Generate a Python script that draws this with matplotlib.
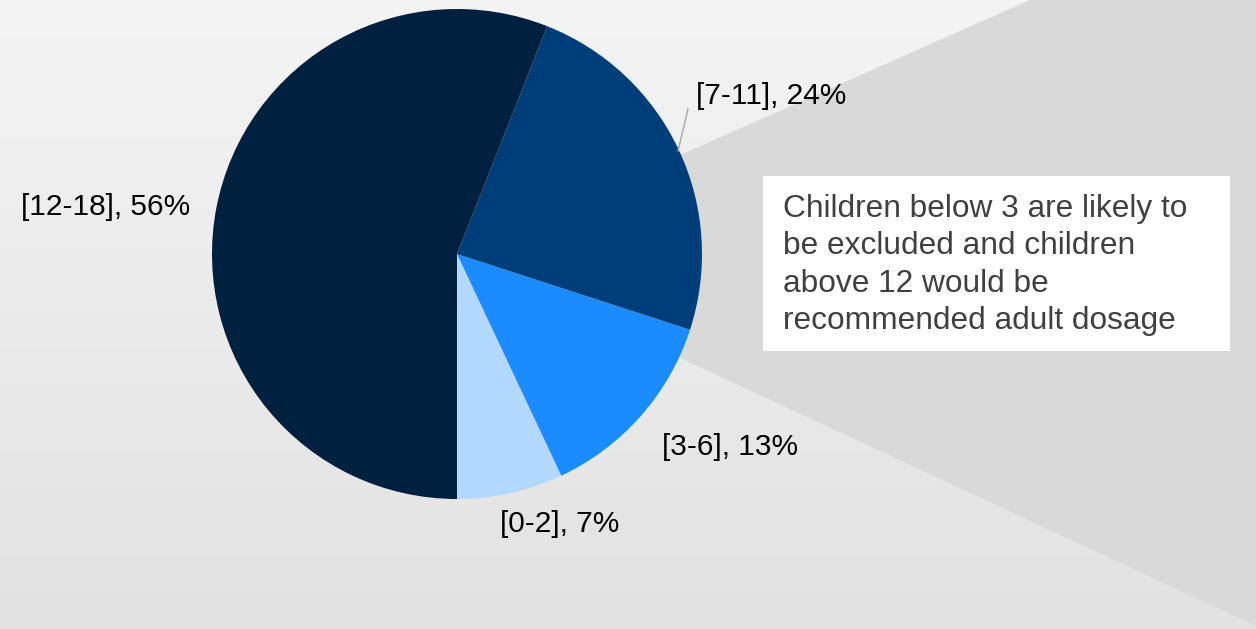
import numpy as np
import matplotlib
matplotlib.use("Agg")
import matplotlib.pyplot as plt
from matplotlib.patches import Polygon, Rectangle

plt.rcParams['font.family'] = ['Liberation Sans', 'DejaVu Sans']

# age groups and their share of children (%)
age_groups = ["[0-2]", "[3-6]", "[7-11]", "[12-18]"]
shares = [7, 13, 24, 56]
colors = ["#b3d8ff", "#1a8cff", "#003e7a", "#00203f"]
note = ("Children below 3 are likely to\nbe excluded and children\n"
        "above 12 would be\nrecommended adult dosage")

W, H = 1256, 629
fig = plt.figure(figsize=(W / 100, H / 100), dpi=100)
ax = fig.add_axes([0, 0, 1, 1])

# background gradient (light at top, darker at bottom)
grad = np.linspace(0.957, 0.886, 256).reshape(-1, 1)
ax.imshow(np.dstack([grad, grad, grad]), extent=[0, W, 0, H], aspect="auto",
          origin="upper", zorder=0)

cx, cy, r = 457, H - 254, 245

# callout band behind the pie
ax.add_patch(Polygon([(cx, cy), (1030, H), (W, H), (W, H - 626)],
                     closed=True, facecolor="#d9d9d9", edgecolor="none", zorder=1))

wedges, _ = ax.pie(shares, colors=colors, startangle=270, counterclock=True,
                   center=(cx, cy), radius=r, frame=True,
                   wedgeprops=dict(linewidth=0, zorder=2))
ax.set_xlim(0, W)
ax.set_ylim(0, H)
ax.set_aspect("equal")
ax.axis("off")

# data labels
label_pos = {"[0-2]": (560, 524), "[3-6]": (730, 447),
             "[7-11]": (771, 96), "[12-18]": (106, 207)}
for g, s in zip(age_groups, shares):
    x, y = label_pos[g]
    ax.text(x, H - y, f"{g}, {s}%", fontsize=21.5, color="black",
            ha="center", va="center", zorder=5)
# leader line for [7-11]
ax.plot([678, 688], [H - 151, H - 109], color="#a6a6a6", lw=1, zorder=4)

# note box
ax.add_patch(Rectangle((763, H - 351), 467, 175, facecolor="white",
                       edgecolor="none", zorder=4))
ax.text(783, H - 265, note, fontsize=22.8, color="#404040", ha="left",
        va="center", linespacing=1.31, zorder=5)

fig.savefig("out.png", dpi=100)
